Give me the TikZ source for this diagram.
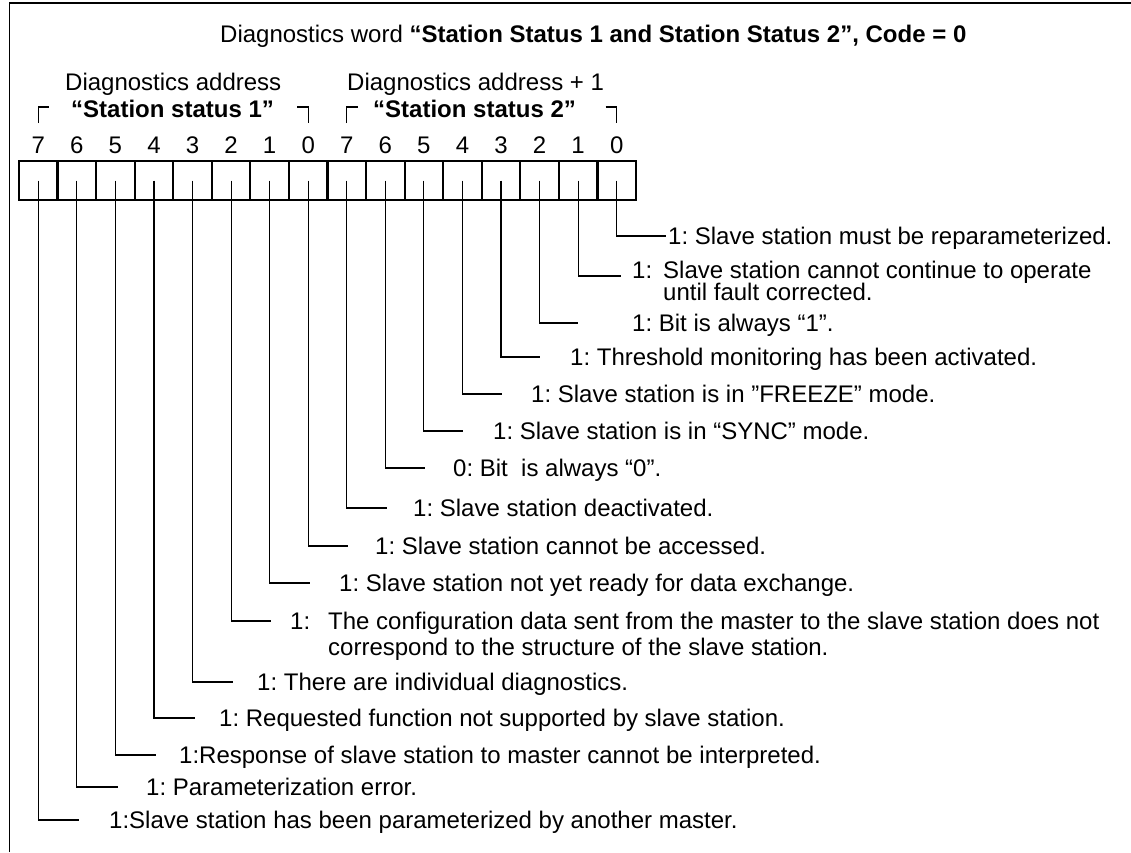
\documentclass[tikz,border=0pt]{standalone}
\usepackage{fontspec}
\setmainfont{Liberation Sans}
\frenchspacing
\tikzset{
	bitbox/.style={draw, line width=2.2pt, minimum width=38.56pt, minimum height=39pt, inner sep=0pt},
	bitnum/.style={anchor=base, inner sep=0pt},
	lbl/.style={anchor=base west, inner sep=0pt},
	wire/.style={line width=1.1pt},
	corner/.style={line width=1.2pt}
}

\begin{document}
\begin{tikzpicture}[x=1pt, y=-1pt, font=\fontsize{24}{25}\selectfont]
			%%%%% START %%%%%
			\useasboundingbox (0,0) rectangle (1131,852);
			\draw[line width=1.6pt] (9.5,852) |- (1131,3);
			
			\node[lbl] (title) at (220,42) {Diagnostics word \textbf{“Station Status 1 and Station Status 2”, Code = 0}};
			\node[lbl] (addr1) at (65,90) {Diagnostics address};
			\node[lbl] (name1) at (71,117) {\textbf{“Station status 1”}};
			\node[lbl] (addr2) at (347,90) {Diagnostics address + 1};
			\node[lbl] (name2) at (373,117) {\textbf{“Station status 2”}};
			
			\draw[corner] (38.28,123) |- (49.3,107);
			\draw[corner] (297.2,107) -| (308.2,123);
			\draw[corner] (346.76,123) |- (357.8,107);
			\draw[corner] (605.7,107) -| (616.68,123);
			
			\node[bitbox] (st1b7) at (38.28,180.5) {};
			\node[bitbox] (st1b6) at (76.84,180.5) {};
			\node[bitbox] (st1b5) at (115.40,180.5) {};
			\node[bitbox] (st1b4) at (153.96,180.5) {};
			\node[bitbox] (st1b3) at (192.52,180.5) {};
			\node[bitbox] (st1b2) at (231.08,180.5) {};
			\node[bitbox] (st1b1) at (269.64,180.5) {};
			\node[bitbox] (st1b0) at (308.20,180.5) {};
			\node[bitbox] (st2b7) at (346.76,180.5) {};
			\node[bitbox] (st2b6) at (385.32,180.5) {};
			\node[bitbox] (st2b5) at (423.88,180.5) {};
			\node[bitbox] (st2b4) at (462.44,180.5) {};
			\node[bitbox] (st2b3) at (501.00,180.5) {};
			\node[bitbox] (st2b2) at (539.56,180.5) {};
			\node[bitbox] (st2b1) at (578.12,180.5) {};
			\node[bitbox] (st2b0) at (616.68,180.5) {};
			
			\node[bitnum] (n1b7) at (38.28,153.5) {7};
			\node[bitnum] (n1b6) at (76.84,153.5) {6};
			\node[bitnum] (n1b5) at (115.40,153.5) {5};
			\node[bitnum] (n1b4) at (153.96,153.5) {4};
			\node[bitnum] (n1b3) at (192.52,153.5) {3};
			\node[bitnum] (n1b2) at (231.08,153.5) {2};
			\node[bitnum] (n1b1) at (269.64,153.5) {1};
			\node[bitnum] (n1b0) at (308.20,153.5) {0};
			\node[bitnum] (n2b7) at (346.76,153.5) {7};
			\node[bitnum] (n2b6) at (385.32,153.5) {6};
			\node[bitnum] (n2b5) at (423.88,153.5) {5};
			\node[bitnum] (n2b4) at (462.44,153.5) {4};
			\node[bitnum] (n2b3) at (501.00,153.5) {3};
			\node[bitnum] (n2b2) at (539.56,153.5) {2};
			\node[bitnum] (n2b1) at (578.12,153.5) {1};
			\node[bitnum] (n2b0) at (616.68,153.5) {0};
			
			% station status 2
			\node[lbl] (t2b0) at (668,244.5) {1: Slave station must be reparameterized.};
			\node[lbl] (t2b1) at (632,278.5) {1:};
			\node[lbl] (t2b1a) at (663,278.5) {Slave station cannot continue to operate};
			\node[lbl] (t2b1b) at (663,300.5) {until fault corrected.};
			\node[lbl] (t2b2) at (632,331.5) {1: Bit is always “1”.};
			\node[lbl] (t2b3) at (570,365.5) {1: Threshold monitoring has been activated.};
			\node[lbl] (t2b4) at (531,402.5) {1: Slave station is in ”FREEZE” mode.};
			\node[lbl] (t2b5) at (493,439.5) {1: Slave station is in “SYNC” mode.};
			\node[lbl] (t2b6) at (453,476.5) {0: Bit\ \ is always “0”.};
			\node[lbl] (t2b7) at (413,516.5) {1: Slave station deactivated.};
			
			% station status 1
			\node[lbl] (t1b0) at (375,554.5) {1: Slave station cannot be accessed.};
			\node[lbl] (t1b1) at (339,591.5) {1: Slave station not yet ready for data exchange.};
			\node[lbl] (t1b2) at (290,629.5) {1:};
			\node[lbl] (t1b2a) at (328,629.5) {The configuration data sent from the master to the slave station does not};
			\node[lbl] (t1b2b) at (328,655) {correspond to the structure of the slave station.};
			\node[lbl] (t1b3) at (257,690.5) {1: There are individual diagnostics.};
			\node[lbl] (t1b4) at (219,726.5) {1: Requested function not supported by slave station.};
			\node[lbl] (t1b5) at (179,763.5) {1:Response of slave station to master cannot be interpreted.};
			\node[lbl] (t1b6) at (146,795.5) {1: Parameterization error.};
			\node[lbl] (t1b7) at (109,828.5) {1:Slave station has been parameterized by another master.};
			
			\coordinate (e2b0) at (666,236);
			\coordinate (e2b1) at (621,276);
			\coordinate (e2b2) at (578,323);
			\coordinate (e2b3) at (540,357);
			\coordinate (e2b4) at (502,394);
			\coordinate (e2b5) at (463,431);
			\coordinate (e2b6) at (425,468);
			\coordinate (e2b7) at (387,508);
			\coordinate (e1b0) at (348,546);
			\coordinate (e1b1) at (310,583);
			\coordinate (e1b2) at (271,621);
			\coordinate (e1b3) at (233,682);
			\coordinate (e1b4) at (195,718);
			\coordinate (e1b5) at (156,755);
			\coordinate (e1b6) at (118,787);
			\coordinate (e1b7) at (79,820);
			
			\draw[wire] (st2b0.center) |- (e2b0);
			\draw[wire] (st2b1.center) |- (e2b1);
			\draw[wire] (st2b2.center) |- (e2b2);
			\draw[wire] (st2b3.center) |- (e2b3);
			\draw[wire] (st2b4.center) |- (e2b4);
			\draw[wire] (st2b5.center) |- (e2b5);
			\draw[wire] (st2b6.center) |- (e2b6);
			\draw[wire] (st2b7.center) |- (e2b7);
			\draw[wire] (st1b0.center) |- (e1b0);
			\draw[wire] (st1b1.center) |- (e1b1);
			\draw[wire] (st1b2.center) |- (e1b2);
			\draw[wire] (st1b3.center) |- (e1b3);
			\draw[wire] (st1b4.center) |- (e1b4);
			\draw[wire] (st1b5.center) |- (e1b5);
			\draw[wire] (st1b6.center) |- (e1b6);
			\draw[wire] (st1b7.center) |- (e1b7);
			%%%%% END %%%%%
\end{tikzpicture}
\end{document}
